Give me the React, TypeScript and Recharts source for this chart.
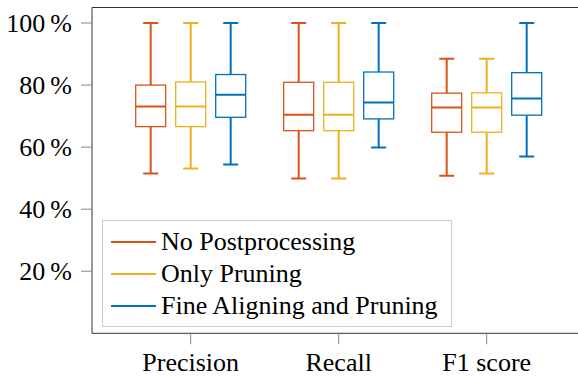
import React from 'react';
import { ComposedChart, Bar, XAxis, YAxis, Legend, ReferenceLine } from 'recharts';

// five-number summaries: [min, q1, median, q3, max] in %
const categories = ['Precision', 'Recall', 'F1 score'];
const noPostprocessing = [
  [51.5, 66.6, 73.1, 80.0, 100],
  [49.9, 65.3, 70.4, 80.9, 100],
  [50.8, 64.8, 72.8, 77.4, 88.5],
];
const onlyPruning = [
  [53.1, 66.6, 73.1, 81.0, 100],
  [49.9, 65.3, 70.4, 80.9, 100],
  [51.5, 64.8, 72.8, 77.5, 88.5],
];
const fineAligningPruning = [
  [54.4, 69.6, 76.9, 83.4, 100],
  [59.9, 69.1, 74.4, 84.2, 100],
  [57.0, 70.3, 75.7, 84.0, 100],
];
const yTicks = [20, 40, 60, 80, 100];

const series = [
  { key: 'noPost', name: 'No Postprocessing', color: '#D95319', values: noPostprocessing },
  { key: 'onlyPrune', name: 'Only Pruning', color: '#EDB120', values: onlyPruning },
  { key: 'fineAlign', name: 'Fine Aligning and Pruning', color: '#0072BD', values: fineAligningPruning },
];

const data = categories.map((c, i) => {
  const row: any = { category: c };
  series.forEach((s) => {
    row[s.key] = s.values[i];
  });
  return row;
});

const FONT = "'Liberation Serif', 'DejaVu Serif', serif";
const FS = 26;

const BoxShape = (props: any) => {
  const { x, y, width, height, payload, sKey, color } = props;
  if (!payload || !payload[sKey]) return null;
  const [mn, q1, med, q3, mx] = payload[sKey];
  const top = Math.min(y, y + height);
  const h = Math.abs(height);
  const toY = (v: number) => top + ((mx - v) / (mx - mn)) * h;
  const cx = x + width / 2;
  const cap = 7.5;
  return (
    <g>
      <line x1={cx} x2={cx} y1={toY(mx)} y2={toY(q3)} stroke={color} strokeWidth={2} />
      <line x1={cx} x2={cx} y1={toY(q1)} y2={toY(mn)} stroke={color} strokeWidth={2} />
      <line x1={cx - cap} x2={cx + cap} y1={toY(mx)} y2={toY(mx)} stroke={color} strokeWidth={2} />
      <line x1={cx - cap} x2={cx + cap} y1={toY(mn)} y2={toY(mn)} stroke={color} strokeWidth={2} />
      <rect x={x} y={toY(q3)} width={width} height={toY(q1) - toY(q3)} fill="#fff" stroke={color} strokeWidth={1.3} />
      <line x1={x} x2={x + width} y1={toY(med)} y2={toY(med)} stroke={color} strokeWidth={2} />
    </g>
  );
};

const renderLegend = (props: any) => {
  const payload = [...(props.payload || [])].sort(
    (a: any, b: any) =>
      series.findIndex((s) => s.name === a.value) - series.findIndex((s) => s.name === b.value)
  );
  return (
    <div
      style={{
        boxSizing: 'border-box',
        width: 350,
        height: 107,
        border: '1px solid #cccccc',
        background: '#fff',
        paddingTop: 5,
        paddingLeft: 8,
        fontFamily: FONT,
        fontSize: FS,
        color: '#000',
      }}
    >
      {payload.map((p: any, i: number) => (
        <div key={i} style={{ display: 'flex', alignItems: 'center', height: 32.2, whiteSpace: 'nowrap' }}>
          <div style={{ width: 45, height: 2, background: p.color, marginRight: 5 }} />
          <span style={{ lineHeight: '32px' }}>{p.value}</span>
        </div>
      ))}
    </div>
  );
};

export default function App() {
  return (
    <div style={{ position: 'absolute', left: 0, top: 0, width: 578, height: 377, overflow: 'hidden', background: '#fff' }}>
      <ComposedChart
        width={590}
        height={377}
        data={data}
        margin={{ top: 7.5, right: 4.6, bottom: 0, left: 0 }}
        barGap={10}
      >
        <XAxis
          dataKey="category"
          padding={{ left: 24.7, right: 24.7 }}
          height={43.7}
          tickSize={11}
          tickMargin={8}
          axisLine={{ stroke: '#333', strokeWidth: 1 }}
          tickLine={{ stroke: '#888' }}
          tick={{ fill: '#000', fontSize: FS, fontFamily: FONT }}
        />
        <YAxis
          type="number"
          domain={[0, 105]}
          ticks={yTicks}
          width={92}
          tickSize={11}
          tickMargin={9}
          tickFormatter={(v: number) => `${v}\u2009%`}
          axisLine={{ stroke: '#333', strokeWidth: 1 }}
          tickLine={{ stroke: '#888' }}
          tick={{ fill: '#000', fontSize: FS, fontFamily: FONT }}
          allowDataOverflow
        />
        <ReferenceLine y={105} stroke="#333" strokeWidth={1} />
        {series.map((s) => (
          <Bar
            key={s.key}
            name={s.name}
            dataKey={(d: any) => [d[s.key][0], d[s.key][4]]}
            fill={s.color}
            barSize={30}
            isAnimationActive={false}
            shape={(p: any) => <BoxShape {...p} sKey={s.key} color={s.color} />}
          />
        ))}
        <Legend
          layout="vertical"
          align="center"
          verticalAlign="middle"
          content={renderLegend}
          wrapperStyle={{ position: 'absolute', left: 102, top: 220, width: 350, height: 107 }}
        />
      </ComposedChart>
    </div>
  );
}
